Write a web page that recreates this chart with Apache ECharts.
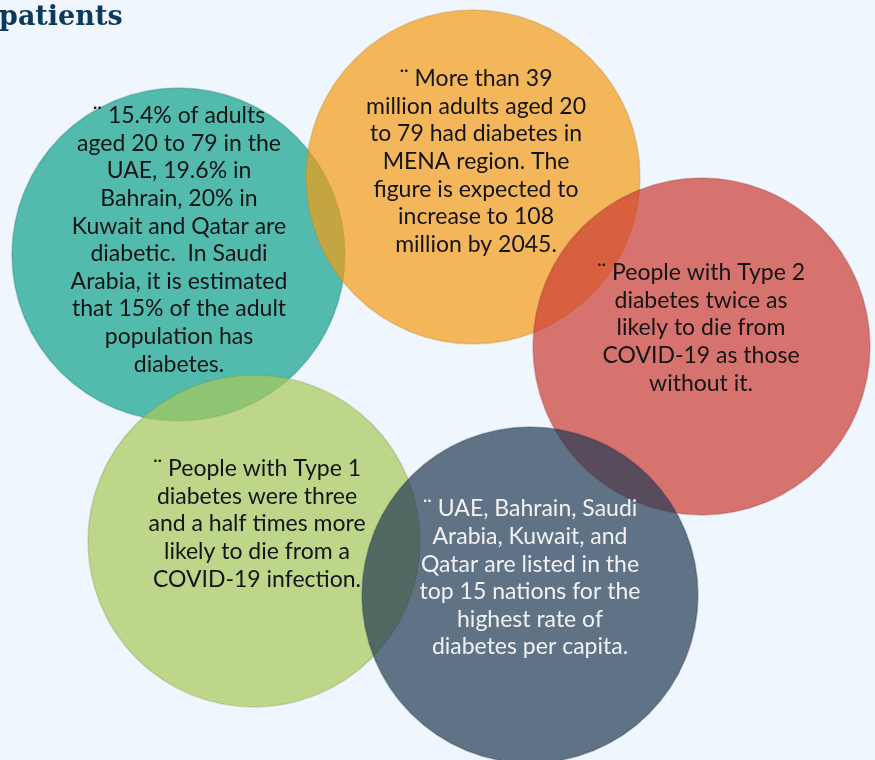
<!DOCTYPE html>
<html>
<head>
<meta charset="utf-8">
<script src="https://cdn.jsdelivr.net/npm/echarts@6/dist/echarts.min.js"></script>
<style>
  html, body { margin: 0; padding: 0; background: #f0f6fd; }
  #chart { width: 875px; height: 760px; }
</style>
</head>
<body>
<div id="chart"></div>
<script>
// ---- data ----
const titleText = 'patients';
const labels = [
  '\u00A8 15.4% of adults\naged 20 to 79 in the\nUAE, 19.6% in\nBahrain, 20% in\nKuwait and Qatar are\ndiabetic.  In Saudi\nArabia, it is estimated\nthat 15% of the adult\npopulation has\ndiabetes.',
  '\u00A8 More than 39\nmillion adults aged 20\nto 79 had diabetes in\nMENA region. The\nfigure is expected to\nincrease to 108\nmillion by 2045.',
  '\u00A8 People with Type 2\ndiabetes twice as\nlikely to die from\nCOVID-19 as those\nwithout it.',
  '\u00A8 People with Type 1\ndiabetes were three\nand a half times more\nlikely to die from a\nCOVID-19 infection.',
  '\u00A8 UAE, Bahrain, Saudi\nArabia, Kuwait, and\nQatar are listed in the\ntop 15 nations for the\nhighest rate of\ndiabetes per capita.'
];
const circleX = [178.5, 473, 701.5, 254, 530];
const circleY = [254.5, 177, 346.5, 541, 595];
const circleR = [166.5, 167, 168.5, 166, 168];
const textX = [179, 476, 701, 257, 530];
const textY = [240, 161.5, 328, 524, 578];

// ---- styles ----
const fills = [
  'rgba(14,162,138,0.7)',
  'rgba(244,155,20,0.7)',
  'rgba(204,60,50,0.7)',
  'rgba(167,201,89,0.7)',
  'rgba(34,58,82,0.7)'
];
const strokes = [
  'rgba(20,110,100,0.3)',
  'rgba(190,130,30,0.3)',
  'rgba(150,50,45,0.3)',
  'rgba(120,150,70,0.3)',
  'rgba(30,45,65,0.3)'
];
const textColors = ['#141414', '#141414', '#141414', '#141414', '#f2f2f2'];

const data = circleX.map((x, i) => [x, circleY[i], circleR[i], textX[i], textY[i]]);

const chart = echarts.init(document.getElementById('chart'), null, { renderer: 'canvas' });
chart.setOption({
  backgroundColor: '#f0f6fd',
  animation: false,
  title: {
    text: titleText,
    left: -1,
    top: 4,
    padding: 0,
    textStyle: { fontFamily: 'DejaVu Serif', fontWeight: 'bold', fontSize: 27, color: '#0d3a5c' }
  },
  grid: { left: 0, right: 0, top: 0, bottom: 0 },
  xAxis: { type: 'value', min: 0, max: 875, show: false },
  yAxis: { type: 'value', min: 0, max: 760, inverse: true, show: false },
  series: [{
    type: 'custom',
    coordinateSystem: 'cartesian2d',
    data: data,
    renderItem: function (params, api) {
      const i = params.dataIndex;
      const c = api.coord([api.value(0), api.value(1)]);
      const r = api.size([api.value(2), 0])[0];
      const t = api.coord([api.value(3), api.value(4)]);
      return {
        type: 'group',
        children: [
          {
            type: 'circle',
            shape: { cx: c[0], cy: c[1], r: r },
            style: { fill: fills[i], stroke: strokes[i], lineWidth: 1.5 },
            z2: i
          },
          {
            type: 'text',
            x: t[0],
            y: t[1],
            style: {
              text: labels[i],
              fill: textColors[i],
              fontFamily: 'Lato',
              fontSize: 23,
              lineHeight: 27.6,
              align: 'center',
              verticalAlign: 'middle'
            },
            z2: 100
          }
        ]
      };
    }
  }]
});
</script>
</body>
</html>
